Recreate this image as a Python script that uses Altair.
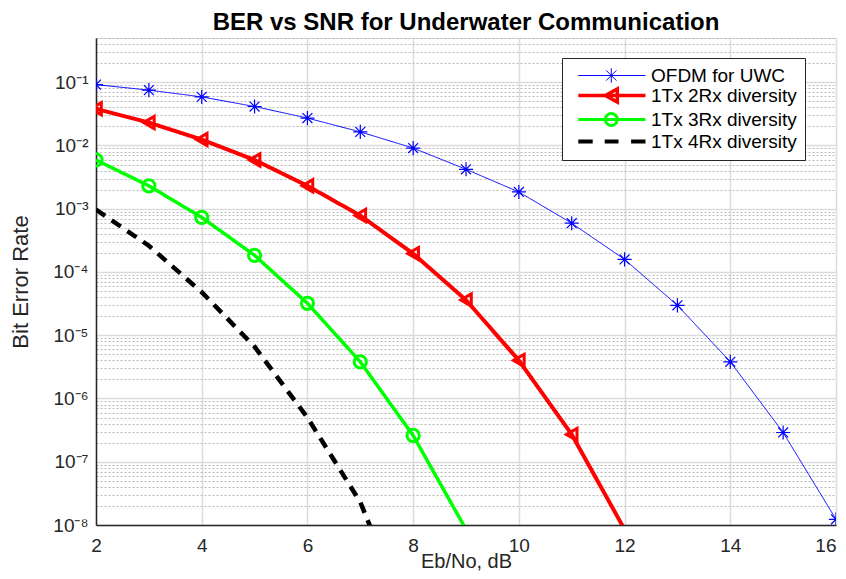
import altair as alt
import pandas as pd

# ---------------- data ----------------
names = ["OFDM for UWC", "1Tx 2Rx diversity", "1Tx 3Rx diversity", "1Tx 4Rx diversity"]

snr_ofdm = [2, 3, 4, 5, 6, 7, 8, 9, 10, 11, 12, 13, 14, 15, 16]
ber_ofdm = [0.0916, 0.075, 0.0586, 0.0413, 0.0271, 0.0164, 0.0091, 0.0042,
            0.00184, 5.9e-4, 1.58e-4, 2.97e-5, 3.8e-6, 2.9e-7, 1.23e-8]

snr_2rx = [2, 3, 4, 5, 6, 7, 8, 9, 10, 11, 12]
ber_2rx = [0.038, 0.023, 0.0124, 0.0059, 0.0023, 7.8e-4, 1.95e-4, 3.6e-5,
           4.0e-6, 2.7e-7, 8.5e-9]

snr_3rx = [2, 3, 4, 5, 6, 7, 8, 9]
ber_3rx = [0.0059, 0.0023, 7.3e-4, 1.83e-4, 3.2e-5, 3.8e-6, 2.6e-7, 8.5e-9]

snr_4rx = [2, 3, 4, 5, 6, 7, 8]
ber_4rx = [9.7e-4, 2.6e-4, 4.8e-5, 6.6e-6, 5.0e-7, 2.3e-8, 2e-10]

x_ticks = [2, 4, 6, 8, 10, 12, 14, 16]
y_ticks = [float(f"{m}e{k}") for k in range(-8, 0) for m in range(1, 10)
           if float(f"{m}e{k}") <= 0.5]

# ---------------- styles ----------------
colors = ["#0000ff", "#ff0000", "#00ff00", "#000000"]
line_widths = [1, 4, 3.5, 4.5]
dashes = [[1, 0], [1, 0], [1, 0], [11, 8]]

asterisk = "M-1,0H1M0,-1V1M-0.7,-0.7L0.7,0.7M-0.7,0.7L0.7,-0.7"
marker_shapes = [asterisk, "triangle-left", "circle"]
marker_sizes = [200, 150, 150]
marker_widths = [1.2, 3, 3]

legend_paths = [
    "M-0.2,0H11M4.1,0H6.5M5.3,-1.2V1.2M4.45,-0.85L6.15,0.85M4.45,0.85L6.15,-0.85",
    "M-0.2,0H11M4.3,0L6.3,-1.1L6.3,1.1Z",
    "M-0.2,0H11M4.3,0A1,1 0 1,0 6.3,0A1,1 0 1,0 4.3,0",
    "M-0.2,0H2.2M4.2,0H6.5M8.6,0H11",
]
legend_widths = [1, 3.5, 3, 4]

rows = []
for name, xs, ys in zip(names, [snr_ofdm, snr_2rx, snr_3rx, snr_4rx],
                        [ber_ofdm, ber_2rx, ber_3rx, ber_4rx]):
    for xv, yv in zip(xs, ys):
        rows.append({"snr": xv, "ber": yv, "series": name})
df = pd.DataFrame(rows)

FONT = "Liberation Sans"
decade = "abs(log(datum.value)/LN10 - round(log(datum.value)/LN10)) < 0.001"
sup = "['⁰','¹','²','³','⁴','⁵','⁶','⁷','⁸','⁹']"
label_expr = f"{decade} ? '10⁻' + {sup}[-round(log(datum.value)/LN10)] : ''"

x_enc = alt.X(
    "snr:Q",
    scale=alt.Scale(domain=[2, 16], nice=False, zero=False),
    axis=alt.Axis(values=x_ticks, ticks=False, labelPadding=11, labelFontSize=19,
                  labelFont=FONT, labelColor="#262626",
                  labelAlign={"condition": {"test": "datum.value == 16", "value": "right"}, "value": "center"},
                  title="Eb/No, dB",
                  titleFont=FONT, titleFontSize=20, titleFontWeight="normal",
                  titleColor="#262626", titleBaseline="alphabetic", titleY=42,
                  gridColor="#dcdcdc",
                  gridWidth=1.5, domainColor="#262626", domainWidth=1.5,
                  labelFlush=False),
)
y_enc = alt.Y(
    "ber:Q",
    scale=alt.Scale(type="log", domain=[1e-8, 0.5], nice=False),
    axis=alt.Axis(values=y_ticks, ticks=False, labelPadding=8, labelFontSize=19,
                  labelFont=FONT, labelColor="#262626", labelExpr=label_expr,
                  labelOverlap=False, title="Bit Error Rate", titleFont=FONT,
                  titleFontSize=22, titleFontWeight="normal", titleColor="#262626",
                  titlePadding=20,
                  gridColor={"condition": {"test": decade, "value": "#dcdcdc"}, "value": "#b8b8b8"},
                  gridDash={"condition": {"test": decade, "value": [1, 0]}, "value": [2, 2]},
                  gridWidth={"condition": {"test": decade, "value": 1.5}, "value": 1},
                  domainColor="#262626", domainWidth=1.5),
)

base = alt.Chart(df)

lines = base.mark_line(clip=True).encode(
    x=x_enc, y=y_enc,
    color=alt.Color("series:N", scale=alt.Scale(domain=names, range=colors), legend=None),
    strokeDash=alt.StrokeDash("series:N", scale=alt.Scale(domain=names, range=dashes), legend=None),
    strokeWidth=alt.StrokeWidth("series:N", scale=alt.Scale(type="ordinal", domain=names, range=line_widths), legend=None),
    detail="series:N",
)

points = base.transform_filter(
    (alt.datum.ber >= 1e-8) & (alt.datum.series != names[3])
).mark_point(clip=True, filled=False, opacity=1).encode(
    x=x_enc, y=y_enc,
    color=alt.Color("series:N", scale=alt.Scale(domain=names, range=colors), legend=None),
    shape=alt.Shape("series:N", scale=alt.Scale(domain=names[:3], range=marker_shapes), legend=None),
    size=alt.Size("series:N", scale=alt.Scale(type="ordinal", domain=names[:3], range=marker_sizes), legend=None),
    strokeWidth=alt.StrokeWidth("series:N", scale=alt.Scale(type="ordinal", domain=names[:3], range=marker_widths), legend=None),
)

leg = alt.Legend(
    title=None, orient="none", legendX=466, legendY=20, padding=8,
    fillColor="white", strokeColor="#262626", labelFont=FONT, labelFontSize=19,
    labelColor="#000000", labelOffset=62, rowPadding=-6.5, symbolSize=144,
    symbolOpacity=1, labelLimit=400,
)

legend_layer = base.transform_filter("false").mark_point(filled=False).encode(
    x=x_enc, y=y_enc,
    color=alt.Color("series:N", scale=alt.Scale(domain=names, range=colors), legend=leg),
    shape=alt.Shape("series:N", scale=alt.Scale(domain=names, range=legend_paths), legend=leg),
    strokeWidth=alt.StrokeWidth("series:N", scale=alt.Scale(type="ordinal", domain=names, range=legend_widths), legend=leg),
)

chart = alt.layer(lines, points, legend_layer).resolve_scale(
    color="independent", shape="independent", strokeWidth="independent",
    size="independent", strokeDash="independent",
).properties(
    width=740, height=487,
    title=alt.TitleParams("BER vs SNR for Underwater Communication", font=FONT,
                          fontSize=24, fontWeight="bold", color="#000000",
                          anchor="middle", offset=-6),
    autosize=alt.AutoSizeParams(type="none"),
    padding={"left": 88, "top": 30, "right": 2, "bottom": 46},
).configure_view(stroke="#262626", strokeWidth=1.5).configure(background="white")

chart.save("out.html", embed_options={"renderer": "svg", "actions": False})
